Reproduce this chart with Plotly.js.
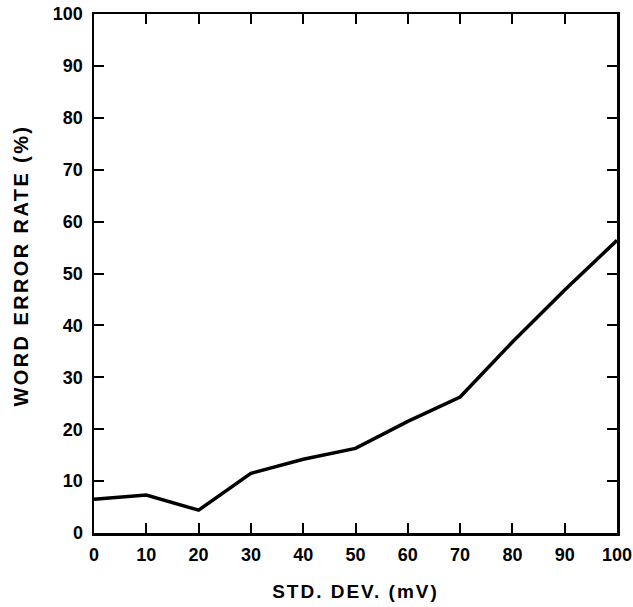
<!DOCTYPE html>
<html>
<head>
<meta charset="utf-8">
<script src="https://cdn.plot.ly/plotly-3.0.1.min.js"></script>
<style>
html,body{margin:0;padding:0;background:#fff;}
#chart{width:633px;height:607px;}
#chart .g-xtitle text{letter-spacing:2px;}
#chart .g-ytitle text{letter-spacing:2.4px;}
</style>
</head>
<body>
<div id="chart"></div>
<script>
const stdDev = [0, 10, 20, 30, 40, 50, 60, 70, 80, 90, 100];
const wordErrorRate = [6.5, 7.3, 4.4, 11.5, 14.2, 16.3, 21.5, 26.2, 36.8, 46.8, 56.4];
const tickVals = [0, 10, 20, 30, 40, 50, 60, 70, 80, 90, 100];

const fam = 'Liberation Sans, Arial, sans-serif';

const trace = {
  x: stdDev,
  y: wordErrorRate,
  type: 'scatter',
  mode: 'lines',
  line: {color: '#000', width: 3.5},
  hoverinfo: 'skip'
};

const axisCommon = {
  range: [0, 100],
  tickvals: tickVals,
  ticks: 'inside',
  ticklen: 10,
  tickwidth: 2,
  tickcolor: '#000',
  showline: true,
  linecolor: '#000',
  linewidth: 2.5,
  mirror: 'ticks',
  showgrid: false,
  zeroline: false,
  tickfont: {family: fam, size: 18, color: '#000', weight: 'bold'},
  fixedrange: true
};

const layout = {
  width: 633,
  height: 607,
  margin: {l: 94, r: 16, t: 14, b: 74},
  paper_bgcolor: '#fff',
  plot_bgcolor: '#fff',
  showlegend: false,
  font: {family: fam, size: 18, color: '#000'},
  xaxis: Object.assign({}, axisCommon, {
    ticklabelstandoff: 4,
    title: {text: '<b>STD. DEV. (mV)</b>', font: {family: fam, size: 19, color: '#000'}, standoff: 21}
  }),
  yaxis: Object.assign({}, axisCommon, {
    ticklabelstandoff: 5,
    title: {text: '<b>\u00a0\u00a0WORD ERROR RATE (%)</b>', font: {family: fam, size: 20, color: '#000'}, standoff: 19}
  })
};

Plotly.newPlot('chart', [trace], layout, {displayModeBar: false, staticPlot: true});
</script>
</body>
</html>
